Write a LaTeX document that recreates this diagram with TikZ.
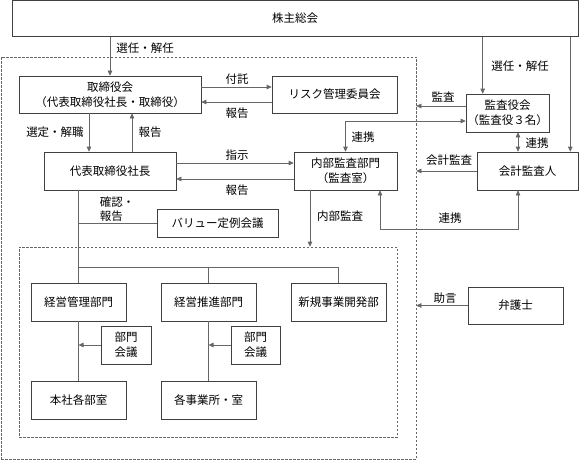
\documentclass[tikz,border=0pt]{standalone}
\usepackage{fontspec}
\setmainfont{Noto Sans CJK JP}
\usetikzlibrary{arrows.meta,calc}
\begin{document}
\begin{tikzpicture}[x=1pt,y=-1pt,
  box/.style={draw=black!75,line width=0.6pt,fill=white,inner sep=0pt,align=center,font=\fontsize{11.5}{15}\selectfont},
  dbox/.style={draw=black!60,line width=0.6pt,dash pattern=on 2.5pt off 1.5pt,inner sep=0pt},
  conn/.style={draw=black!60,line width=0.6pt},
  arr/.style={conn,-{Triangle[length=5pt,width=4.5pt]}},
  dbl/.style={conn,{Triangle[length=5pt,width=4.5pt]}-{Triangle[length=5pt,width=4.5pt]}},
  lbl/.style={inner sep=0pt,align=left,font=\fontsize{11.5}{14}\selectfont}]
\useasboundingbox (0,0) rectangle (581,460);
% dashed frames
\node[dbox,minimum width=415,minimum height=402] (outer) at (208.5,258) {};
\node[dbox,minimum width=378,minimum height=190] (inner) at (208,342) {};
% boxes
\node[box,minimum width=566,minimum height=36] (kabu) at (295,18.5) {株主総会};
\node[box,minimum width=182,minimum height=37] (tori) at (110,94.5) {取締役会\\（代表取締役社長・取締役）};
\node[box,minimum width=125,minimum height=37] (risk) at (334.5,94.5) {リスク管理委員会};
\node[box,minimum width=132,minimum height=38] (daihyo) at (110,171) {代表取締役社長};
\node[box,minimum width=103,minimum height=38] (naibu) at (345.5,171) {内部監査部門\\（監査室）};
\node[box,minimum width=83,minimum height=38] (kansa) at (507.5,113) {監査役会\\（監査役３名）};
\node[box,minimum width=101,minimum height=38] (kaikei) at (527.5,171) {会計監査人};
\node[box,minimum width=121,minimum height=28] (value) at (217.5,223) {バリュー定例会議};
\node[box,minimum width=95,minimum height=38] (keiei1) at (78.5,302) {経営管理部門};
\node[box,minimum width=95,minimum height=38] (keiei2) at (208.5,302) {経営推進部門};
\node[box,minimum width=95,minimum height=38] (shinki) at (338.5,302) {新規事業開発部};
\node[box,minimum width=50,minimum height=38] (bumon1) at (126,345) {部門\\会議};
\node[box,minimum width=49,minimum height=38] (bumon2) at (255.5,345) {部門\\会議};
\node[box,minimum width=95,minimum height=38] (honsha) at (78.5,400) {本社各部室};
\node[box,minimum width=95,minimum height=38] (kakuji) at (208.5,400) {各事業所・室};
\node[box,minimum width=95,minimum height=37] (bengo) at (515.5,305.5) {弁護士};
% helper coordinates
\path (kansa.north west) ++(17,0) coordinate (kstop);
\path (kaikei.north east) ++(-8,0) coordinate (kctop);
\path ([xshift=10.5pt]kansa.south) coordinate (kv);
\path ([xshift=34.5pt]naibu.south) coordinate (nb);
\path (kv |- kaikei.south) coordinate (kb);
\path ([xshift=-35.5pt]naibu.south) coordinate (ni);
\path ([xshift=-21pt]tori.south) coordinate (sx);
\path ([xshift=22pt]daihyo.north) coordinate (hx);
\coordinate (bus) at (0,267);
% connectors
\draw[arr] (tori.north |- kabu.south) -- (tori.north);
\draw[arr] (kabu.south -| kstop) -- (kstop);
\draw[arr] (kabu.south -| kctop) -- (kctop);
\draw[arr] ([yshift=7.5pt]tori.east) -- ([yshift=7.5pt]risk.west);
\draw[arr] ([yshift=-7.5pt]risk.west) -- ([yshift=-7.5pt]tori.east);
\draw[arr] (sx) -- (sx |- daihyo.north);
\draw[arr] (hx) -- (hx |- tori.south);
\draw[arr] ([yshift=8pt]daihyo.east) -- ([yshift=8pt]naibu.west);
\draw[arr] ([yshift=-8pt]naibu.west) -- ([yshift=-8pt]daihyo.east);
\draw[arr] ([yshift=7pt]kansa.west) -- ([yshift=7pt]kansa.west -| outer.east);
\draw[dbl] (naibu.north) |- ([yshift=-8pt]kansa.west);
\draw[dbl] (kv) -- (kv |- kaikei.north);
\draw[arr] (kaikei.west) -- (kaikei.west -| outer.east);
\draw[dbl] (nb) -- ++(0,39) -| (kb);
\draw[arr] (ni) -- (ni |- inner.north);
\draw[conn] (keiei1.north |- daihyo.south) -- (keiei1.north);
\draw[conn] (keiei1.north |- value.west) -- (value.west);
\draw[conn] (keiei1.north |- bus) -| (shinki.north);
\draw[conn] (keiei2.north |- bus) -- (keiei2.north);
\draw[conn] (keiei1.south) -- (honsha.north);
\draw[conn] (keiei2.south) -- (kakuji.north);
\draw[arr] (bumon1.west) -- (bumon1.west -| keiei1.south);
\draw[arr] (bumon2.west) -- (bumon2.west -| keiei2.south);
\draw[arr] (bengo.west) -- (bengo.west -| outer.east);
% labels
\node[lbl] (l1) at (145,48) {選任・解任};
\node[lbl] (l2) at (520,66) {選任・解任};
\node[lbl] (l3) at (237,79) {付託};
\node[lbl] (l4) at (237,113) {報告};
\node[lbl] (l5) at (55,132) {選定・解職};
\node[lbl] (l6) at (150,132) {報告};
\node[lbl] (l7) at (237,155) {指示};
\node[lbl] (l8) at (237,190) {報告};
\node[lbl] (l9) at (117,209) {確認・\\報告};
\node[lbl] (l10) at (443,97) {監査};
\node[lbl] (l11) at (363,137) {連携};
\node[lbl] (l12) at (537,143) {連携};
\node[lbl] (l13) at (449,160) {会計監査};
\node[lbl] (l14) at (450,218) {連携};
\node[lbl] (l15) at (340,216) {内部監査};
\node[lbl] (l16) at (445,298) {助言};
\end{tikzpicture}
\end{document}
